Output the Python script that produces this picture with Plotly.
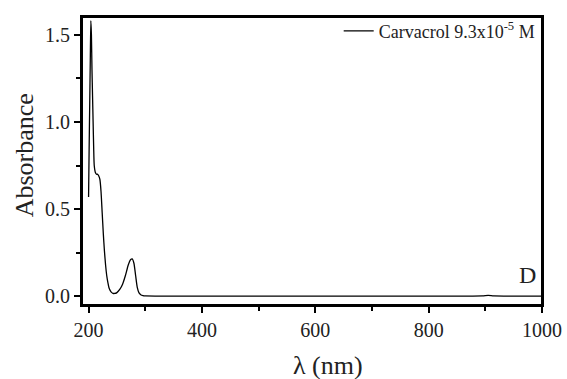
import plotly.graph_objects as go

wavelength = [200, 201, 202, 203, 204, 205, 206, 207, 208, 209, 210, 212, 214, 216, 218, 220,
              222, 224, 226, 228, 230, 232, 234, 236, 238, 240, 243, 246, 250, 255, 260, 265,
              270, 274, 277, 280, 283, 286, 289, 292, 296, 300, 350, 400, 450, 500, 550, 600,
              650, 700, 750, 800, 850, 895, 905, 915, 950, 1000]
absorbance = [0.57, 0.85, 1.10, 1.35, 1.58, 1.50, 1.30, 1.15, 1.00, 0.85, 0.75, 0.71, 0.70, 0.70, 0.69, 0.67,
              0.60, 0.48, 0.36, 0.26, 0.18, 0.12, 0.08, 0.05, 0.035, 0.025, 0.018, 0.017, 0.022, 0.04, 0.07, 0.12,
              0.18, 0.21, 0.215, 0.19, 0.12, 0.05, 0.02, 0.01, 0.005, 0.003, 0.002, 0.002, 0.002, 0.002, 0.002, 0.002,
              0.002, 0.002, 0.002, 0.002, 0.002, 0.003, 0.006, 0.003, 0.002, 0.002]

series_name = "Carvacrol 9.3x10<sup>-5</sup> M"
x_ticks = [200, 400, 600, 800, 1000]
y_ticks = [0.0, 0.5, 1.0, 1.5]

FONT = "Liberation Serif, Times New Roman, serif"

fig = go.Figure()
fig.add_trace(go.Scatter(x=wavelength, y=absorbance, mode="lines", name=series_name,
                         line=dict(color="black", width=1.3, shape="spline", smoothing=0.6)))

fig.update_xaxes(range=[188.4, 1000], tickmode="array", tickvals=x_ticks,
                 ticktext=[str(v) for v in x_ticks],
                 minor=dict(ticks="outside", ticklen=4, tickwidth=2, tickcolor="black", dtick=100, tick0=200),
                 ticks="outside", ticklen=6, tickwidth=2, tickcolor="black",
                 showgrid=False, zeroline=False, automargin=False,
                 showline=True, linecolor="black", linewidth=2, mirror=True,
                 tickfont=dict(family=FONT, size=20, color="#222"))
fig.update_yaxes(range=[-0.049, 1.601], tickmode="array", tickvals=y_ticks,
                 ticktext=["0.0", "0.5", "1.0", "1.5"],
                 minor=dict(ticks="outside", ticklen=4, tickwidth=2, tickcolor="black", dtick=0.25, tick0=0),
                 ticks="outside", ticklen=6, tickwidth=2, tickcolor="black",
                 showgrid=False, zeroline=False, automargin=False,
                 showline=True, linecolor="black", linewidth=2, mirror=True,
                 tickfont=dict(family=FONT, size=20, color="#222"))

fig.update_layout(
    width=567, height=379,
    margin=dict(l=82, r=25, t=17, b=74, autoexpand=False),
    paper_bgcolor="white", plot_bgcolor="white",
    font=dict(family=FONT, color="#222"),
    showlegend=True,
    legend=dict(x=0.995, y=1.015, xanchor="right", yanchor="top",
                bgcolor="rgba(0,0,0,0)", font=dict(family=FONT, size=18, color="#222")),
    shapes=[dict(type="rect", xref="paper", yref="paper", x0=0, x1=1, y0=0, y1=1,
                 line=dict(color="black", width=2), layer="above")],
    annotations=[
        dict(text="λ (nm)", xref="paper", yref="paper", x=0.535, y=-0.21,
             xanchor="center", yanchor="middle", showarrow=False,
             font=dict(family=FONT, size=26, color="#222")),
        dict(text="Absorbance", xref="paper", yref="paper", x=-0.123, y=0.521,
             xanchor="center", yanchor="middle", textangle=-90, showarrow=False,
             font=dict(family=FONT, size=26, color="#222")),
        dict(text="D", xref="paper", yref="paper", x=0.969, y=0.104,
             xanchor="center", yanchor="middle", showarrow=False,
             font=dict(family=FONT, size=24, color="#222")),
    ],
)

fig.write_html("out.html")
